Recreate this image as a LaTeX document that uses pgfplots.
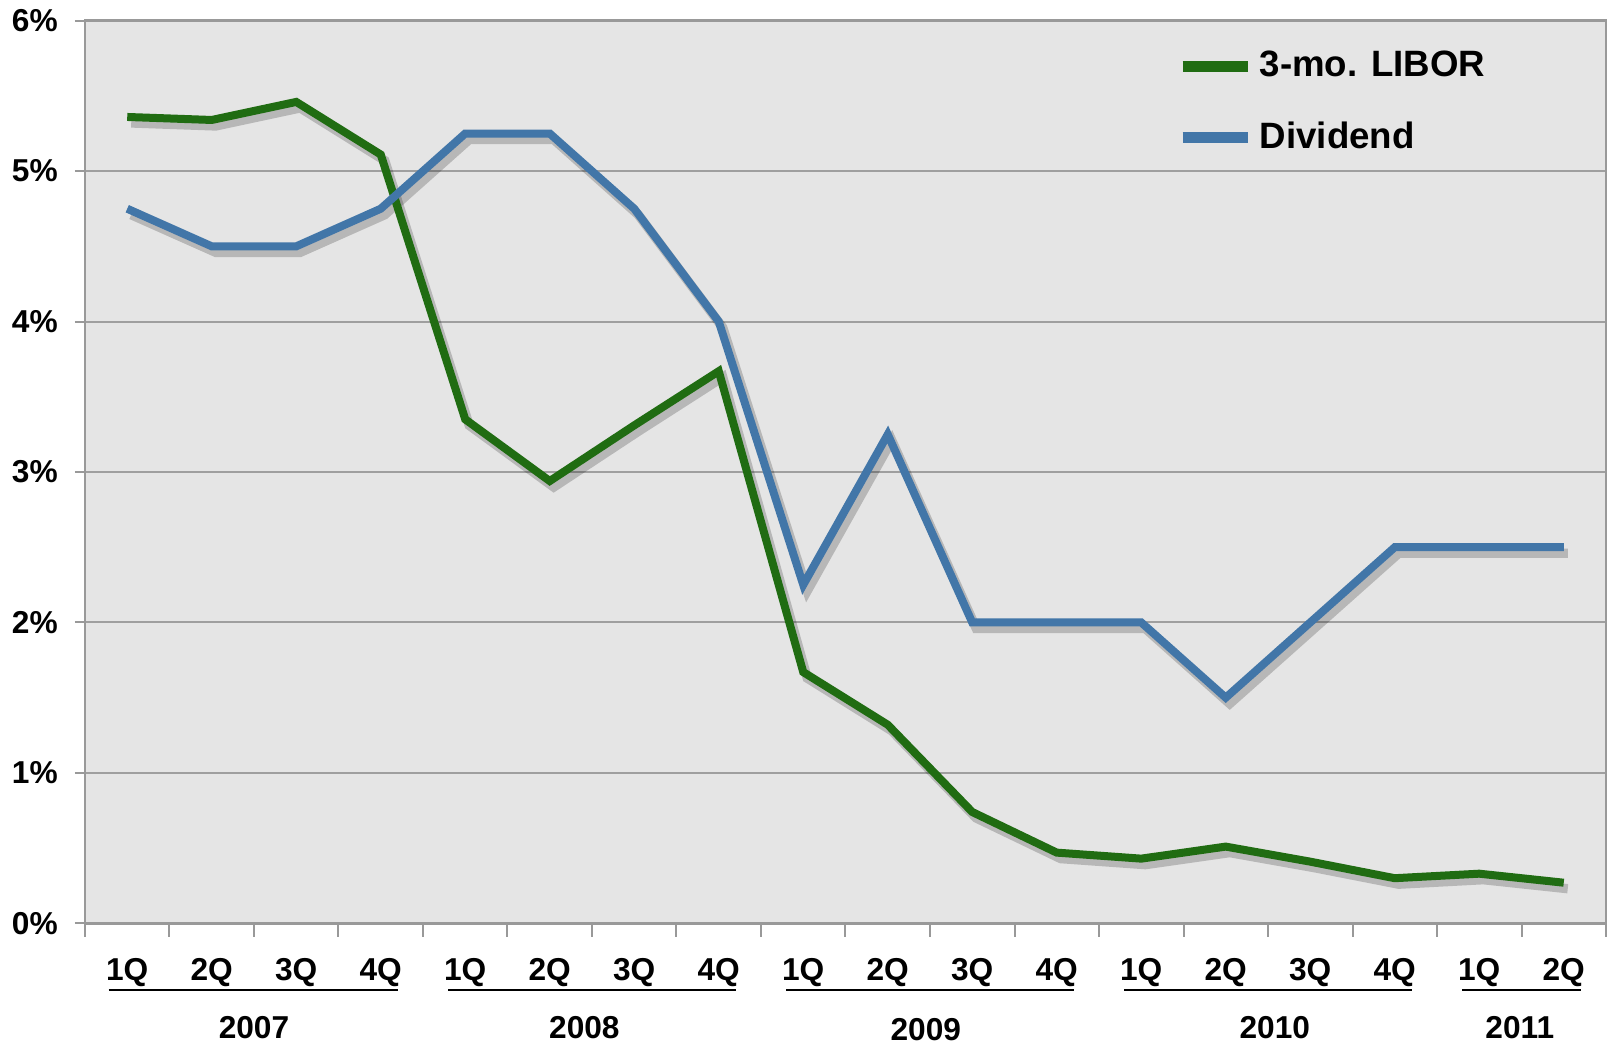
\documentclass[border=0pt]{standalone}
\usepackage{fontspec}
\setmainfont{Liberation Sans}
\usepackage{pgfplots}
\pgfplotsset{compat=1.18}
\usetikzlibrary{calc}
\definecolor{libor}{RGB}{32,108,18}
\definecolor{divc}{RGB}{66,118,168}
\definecolor{bg}{RGB}{229,229,229}
\begin{document}
\begin{tikzpicture}
\begin{axis}[name=ax, scale only axis, width=456.3pt, height=270.8pt,
  xmin=-0.5, xmax=17.5, ymin=0, ymax=6,
  clip=false,
  axis background/.style={fill=bg},
  axis line style={draw=gray!80, line width=0.8pt},
  ytick={0,...,6}, yticklabels={0\%,1\%,2\%,3\%,4\%,5\%,6\%},
  ymajorgrids, grid style={gray!75, line width=0.6pt},
  xtick={0,...,17},
  xticklabels={1Q,2Q,3Q,4Q,1Q,2Q,3Q,4Q,1Q,2Q,3Q,4Q,1Q,2Q,3Q,4Q,1Q,2Q},
  minor xtick={-0.5,0.5,...,17.5},
  major x tick style={draw=none},
  tick pos=left,
  tick style={draw=gray!80, line width=0.6pt},
  tick align=outside, major tick length=3pt, minor tick length=4pt,
  tick label style={font=\bfseries\fontsize{9.5}{11}\selectfont},
  xticklabel style={anchor=north, inner sep=0pt, yshift=-7.2pt},
  yticklabel style={anchor=east, inner sep=0pt, xshift=-5pt},
  legend style={draw=none, fill=none, at={(0.711,0.982)}, anchor=north west,
    font=\bfseries\fontsize{11}{13}\selectfont, row sep=8pt},
  legend cell align=left,
  legend image code/.code={\draw[#1, line width=3.3pt] (0pt,0pt) -- (19.5pt,0pt);},
]
% shadows
\addplot[black, opacity=0.2, line width=2.8pt, forget plot, transform canvas={xshift=1.2pt,yshift=-1.8pt}] coordinates {
(0,5.36) (1,5.34) (2,5.46) (3,5.11) (4,3.35) (5,2.94) (6,3.31) (7,3.67) (8,1.67) (9,1.32)
(10,0.74) (11,0.47) (12,0.43) (13,0.51) (14,0.41) (15,0.30) (16,0.33) (17,0.27)};
\addplot[black, opacity=0.2, line width=2.8pt, forget plot, transform canvas={xshift=1.2pt,yshift=-1.8pt}] coordinates {
(0,4.75) (1,4.5) (2,4.5) (3,4.75) (4,5.25) (5,5.25) (6,4.75) (7,4.0) (8,2.25) (9,3.25)
(10,2.0) (11,2.0) (12,2.0) (13,1.5) (14,2.0) (15,2.5) (16,2.5) (17,2.5)};
\addplot[libor, line width=2.4pt] coordinates {
(0,5.36) (1,5.34) (2,5.46) (3,5.11) (4,3.35) (5,2.94) (6,3.31) (7,3.67) (8,1.67) (9,1.32)
(10,0.74) (11,0.47) (12,0.43) (13,0.51) (14,0.41) (15,0.30) (16,0.33) (17,0.27)};
\addlegendentry{3-mo. LIBOR}
\addplot[divc, line width=2.4pt] coordinates {
(0,4.75) (1,4.5) (2,4.5) (3,4.75) (4,5.25) (5,5.25) (6,4.75) (7,4.0) (8,2.25) (9,3.25)
(10,2.0) (11,2.0) (12,2.0) (13,1.5) (14,2.0) (15,2.5) (16,2.5) (17,2.5)};
\addlegendentry{Dividend}
% year underlines and labels
\draw[line width=0.8pt] ([yshift=-20pt]axis cs:-0.22,0) -- ([yshift=-20pt]axis cs:3.2,0);
\draw[line width=0.8pt] ([yshift=-20pt]axis cs:3.8,0) -- ([yshift=-20pt]axis cs:7.2,0);
\draw[line width=0.8pt] ([yshift=-20pt]axis cs:7.8,0) -- ([yshift=-20pt]axis cs:11.2,0);
\draw[line width=0.8pt] ([yshift=-20pt]axis cs:11.8,0) -- ([yshift=-20pt]axis cs:15.2,0);
\draw[line width=0.8pt] ([yshift=-20pt]axis cs:15.8,0) -- ([yshift=-20pt]axis cs:17.2,0);
\node[font=\bfseries\fontsize{9.5}{11}\selectfont] at ([yshift=-31.3pt]axis cs:1.5,0) {2007};
\node[font=\bfseries\fontsize{9.5}{11}\selectfont] at ([yshift=-31.3pt]axis cs:5.41,0) {2008};
\node[font=\bfseries\fontsize{9.5}{11}\selectfont] at ([yshift=-31.8pt]axis cs:9.45,0) {2009};
\node[font=\bfseries\fontsize{9.5}{11}\selectfont] at ([yshift=-31.3pt]axis cs:13.58,0) {2010};
\node[font=\bfseries\fontsize{9.5}{11}\selectfont] at ([yshift=-31.3pt]axis cs:16.48,0) {2011};
\end{axis}
\pgfresetboundingbox
\path ($(ax.south west)+(-25.5pt,-36pt)$) rectangle ($(ax.north east)+(0.6pt,6.2pt)$);
\end{tikzpicture}
\end{document}
